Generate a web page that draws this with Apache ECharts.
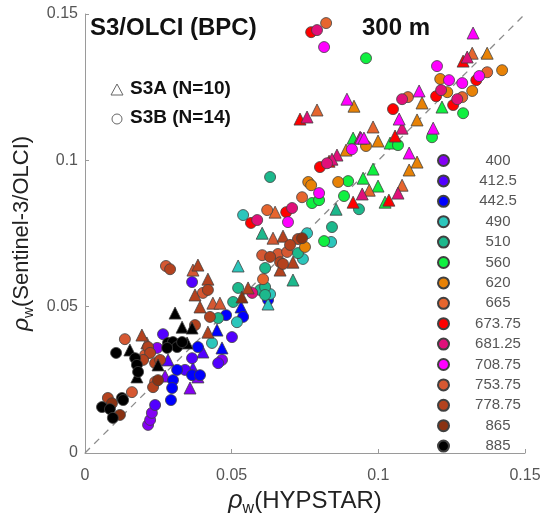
<!DOCTYPE html>
<html>
<head>
<meta charset="UTF-8">
<title>S3/OLCI (BPC) 300 m</title>
<script src="https://cdn.jsdelivr.net/npm/echarts@6/dist/echarts.min.js"></script>
<style>body{margin:0;background:#fff}#main{width:544px;height:513px}</style>
</head>
<body>
<div id="main"></div>
<script>
// band names and colours
const bands = ['400','412.5','442.5','490','510','560','620','665','673.75','681.25','708.75','753.75','778.75','865','885'];
const colors = ['#8400f4','#5200ff','#0000ff','#2cc6bc','#1cb88c','#10f040','#e88206','#e6652e','#ff0000','#e0107a','#ff00ff','#d65832','#b4421e','#8a3212','#000000'];

// S3A matchups (triangles), [HYPSTAR, OLCI]
const a400 = [[0.0273,0.0263],[0.0358,0.0222],[0.0385,0.0260]];
const a412 = [[0.0402,0.0345],[0.0283,0.0318],[0.0368,0.0290]];
const a442 = [[0.0450,0.0420],[0.0467,0.0359],[0.0532,0.0499]];
const a490 = [[0.0522,0.0639],[0.0624,0.0509]];
const a510 = [[0.0604,0.0751],[0.0709,0.0591],[0.0856,0.0833]];
const a560 = [[0.0914,0.1076],[0.0982,0.0970],[0.0948,0.0939],[0.0999,0.0912],[0.1023,0.0857],[0.1217,0.1182],[0.1040,0.1059]];
const a620 = [[0.0917,0.1185],[0.0999,0.1066],[0.1149,0.1196],[0.1132,0.1138],[0.1132,0.0994],[0.1105,0.0967],[0.1371,0.1366],[0.0890,0.1035]];
const a665 = [[0.0791,0.1172],[0.0982,0.1114],[0.1320,0.1366],[0.1081,0.0915],[0.0969,0.0898],[0.0648,0.0823]];
const a673 = [[0.0733,0.1141],[0.0832,0.0997],[0.1057,0.1083],[0.1289,0.1339],[0.0914,0.0857],[0.1036,0.0864]];
const a681 = [[0.0757,0.1148],[0.0859,0.1018],[0.0842,0.1004],[0.1081,0.1110],[0.1303,0.1353],[0.0945,0.0885],[0.0938,0.1079],[0.1067,0.0888]];
const a708 = [[0.0893,0.1209],[0.0941,0.1076],[0.0951,0.1076],[0.1323,0.1435],[0.1139,0.1237],[0.1071,0.1141],[0.1187,0.1110],[0.1105,0.1025]];
const a753 = [[0.0368,0.0625],[0.0436,0.0512],[0.0460,0.0512],[0.0641,0.0734],[0.0211,0.0376]];
const a778 = [[0.0385,0.0642],[0.0419,0.0594],[0.0375,0.0540],[0.0392,0.0499],[0.0194,0.0403],[0.0419,0.0413],[0.0675,0.0741],[0.0665,0.0625],[0.0709,0.0652],[0.0556,0.0564]];
const a865 = [[0.0535,0.0533]];
const a885 = [[0.0307,0.0478],[0.0331,0.0430],[0.0365,0.0427],[0.0348,0.0376],[0.0153,0.0352],[0.0249,0.0301],[0.0177,0.0260]];

// S3B matchups (circles), [HYPSTAR, OLCI]
const b400 = [[0.0246,0.0359],[0.0215,0.0096],[0.0222,0.0113],[0.0228,0.0137],[0.0467,0.0318]];
const b412 = [[0.0266,0.0406],[0.0365,0.0324],[0.0501,0.0396],[0.0239,0.0164],[0.0454,0.0307],[0.0341,0.0284],[0.0365,0.0584]];
const b442 = [[0.0385,0.0362],[0.0314,0.0284],[0.0365,0.0266],[0.0392,0.0266],[0.0300,0.0249],[0.0297,0.0222],[0.0293,0.0181],[0.0481,0.0471],[0.0539,0.0465],[0.0624,0.0523]];
const b490 = [[0.0539,0.0813],[0.0433,0.0376],[0.0518,0.0447],[0.0631,0.0543],[0.0743,0.0663],[0.0757,0.0751],[0.0839,0.0721]];
const b510 = [[0.0631,0.0943],[0.0454,0.0461],[0.0522,0.0564],[0.0505,0.0516],[0.0597,0.0557],[0.0614,0.0567],[0.0614,0.0632],[0.0726,0.0683],[0.0842,0.0772],[0.0934,0.0833],[0.0614,0.0540]];
const b560 = [[0.0958,0.1349],[0.0897,0.0929],[0.0774,0.0854],[0.0798,0.0864],[0.0883,0.0878],[0.0815,0.0724],[0.1289,0.1161],[0.1067,0.1052],[0.1183,0.1079]];
const b620 = [[0.0958,0.1049],[0.0761,0.0926],[0.0771,0.0915],[0.0863,0.0926],[0.0750,0.0704],[0.1211,0.1278],[0.1235,0.1233],[0.1320,0.1237],[0.1422,0.1308]];
const b665 = [[0.0822,0.1469],[0.1101,0.1216],[0.1286,0.1216],[0.1371,0.1301],[0.0740,0.0874],[0.0607,0.0594],[0.0621,0.0830]];
const b673 = [[0.0771,0.1438],[0.1050,0.1175],[0.1197,0.1219],[0.1255,0.1189],[0.1334,0.1274],[0.0801,0.0977],[0.0686,0.0823],[0.0566,0.0786]];
const b681 = [[0.0791,0.1445],[0.0825,0.0990],[0.1081,0.1209],[0.1214,0.1240],[0.1269,0.1209],[0.0587,0.0796],[0.0706,0.0837],[0.0570,0.0547]];
const b708 = [[0.0815,0.1387],[0.0910,0.1038],[0.1200,0.1322],[0.1241,0.1274],[0.1286,0.1264],[0.1344,0.1288],[0.0798,0.0888],[0.0692,0.0789]];
const b753 = [[0.0276,0.0639],[0.0604,0.0676],[0.0658,0.0680],[0.0689,0.0687],[0.0136,0.0389],[0.0160,0.0208],[0.0402,0.0547],[0.0205,0.0335],[0.0239,0.0243]];
const b778 = [[0.0290,0.0628],[0.0419,0.0557],[0.0426,0.0465],[0.0375,0.0437],[0.0215,0.0362],[0.0222,0.0342],[0.0198,0.0318],[0.0239,0.0307],[0.0256,0.0318],[0.0631,0.0670],[0.0665,0.0652],[0.0675,0.0646],[0.0726,0.0731],[0.0699,0.0711],[0.0232,0.0225],[0.0078,0.0188]];
const b865 = [[0.0119,0.0130],[0.0249,0.0249],[0.0740,0.0734],[0.0092,0.0170]];
const b885 = [[0.0106,0.0342],[0.0283,0.0376],[0.0300,0.0379],[0.0314,0.0362],[0.0280,0.0359],[0.0331,0.0379],[0.0171,0.0324],[0.0177,0.0301],[0.0181,0.0277],[0.0058,0.0157],[0.0085,0.0150],[0.0095,0.0120],[0.0126,0.0188],[0.0130,0.0181]];

const s3a = [a400,a412,a442,a490,a510,a560,a620,a665,a673,a681,a708,a753,a778,a865,a885];
const s3b = [b400,b412,b442,b490,b510,b560,b620,b665,b673,b681,b708,b753,b778,b865,b885];

const FONT = 'Liberation Sans, Arial, sans-serif';

const series = [{
  type: 'line', data: [[0,0],[0.15,0.15]], symbol: 'none', silent: true, z: 1,
  lineStyle: {type: [7,6], color: '#8c8c8c', width: 1.3}
}];
bands.forEach((b, i) => {
  const pts = s3a[i].map(p => ({value: p, symbol: 'triangle', symbolSize: 12}))
    .concat(s3b[i].map(p => ({value: p, symbol: 'circle', symbolSize: 11})));
  series.push({
    name: b, type: 'scatter', data: pts, z: 2,
    itemStyle: {color: colors[i], opacity: 1, borderColor: '#404040', borderWidth: 0.8}
  });
});

function axisName(size, sub) {
  return {rich: {
    r: {fontSize: size + 1, fontStyle: 'italic', color: '#222', fontFamily: FONT},
    s: {fontSize: sub, color: '#222', padding: [Math.round(size * 0.6),0,0,0], fontFamily: FONT},
    n: {fontSize: size, color: '#222', fontFamily: FONT}
  }};
}

const chart = echarts.init(document.getElementById('main'));
chart.setOption({
  animation: false,
  textStyle: {fontFamily: FONT},
  grid: {left: 85, right: 19, top: 14, bottom: 60, containLabel: false, outerBoundsMode: 'none'},
  xAxis: {
    type: 'value', min: 0, max: 0.15, interval: 0.05,
    name: '{r|ρ}{s|w}{n|(HYPSTAR)}', nameLocation: 'middle', nameGap: 29,
    nameTextStyle: axisName(24, 16),
    axisLine: {lineStyle: {color: '#9a9a9a'}},
    axisTick: {inside: true, length: 4, lineStyle: {color: '#9a9a9a'}},
    axisLabel: {color: '#555', fontSize: 16, margin: 15},
    splitLine: {show: false}
  },
  yAxis: {
    type: 'value', min: 0, max: 0.15, interval: 0.05,
    name: '{r|ρ}{s|w}{n|(Sentinel-3/OLCI)}', nameLocation: 'middle', nameGap: 47, nameRotate: 90,
    nameTextStyle: axisName(22, 15),
    axisLine: {lineStyle: {color: '#9a9a9a'}},
    axisTick: {inside: true, length: 4, lineStyle: {color: '#9a9a9a'}},
    axisLabel: {color: '#555', fontSize: 16, margin: 7},
    splitLine: {show: false}
  },
  legend: {
    data: bands.map(b => ({name: b, icon: 'circle'})),
    orient: 'vertical', left: 432, top: 148,
    itemWidth: 11, itemHeight: 11, itemGap: 5.4,
    formatter: '{t|{name}}',
    textStyle: {rich: {t: {width: 88, lineHeight: 14, align: 'center', fontSize: 15, color: '#555', fontFamily: FONT}}}
  },
  graphic: [
    {type: 'text', left: 90, top: 16, style: {text: 'S3/OLCI (BPC)', font: 'bold 24px ' + FONT, fill: '#111'}},
    {type: 'text', left: 362, top: 16, style: {text: '300 m', font: 'bold 24px ' + FONT, fill: '#111'}},
    {type: 'polygon', shape: {points: [[117,84],[111,95],[123,95]]}, style: {fill: '#fff', stroke: '#666', lineWidth: 1}},
    {type: 'text', left: 130, top: 79, style: {text: 'S3A (N=10)', font: 'bold 19px ' + FONT, fill: '#111'}},
    {type: 'circle', shape: {cx: 117, cy: 119, r: 5}, style: {fill: '#fff', stroke: '#666', lineWidth: 1}},
    {type: 'text', left: 130, top: 108, style: {text: 'S3B (N=14)', font: 'bold 19px ' + FONT, fill: '#111'}}
  ],
  series: series
});
</script>
</body>
</html>
